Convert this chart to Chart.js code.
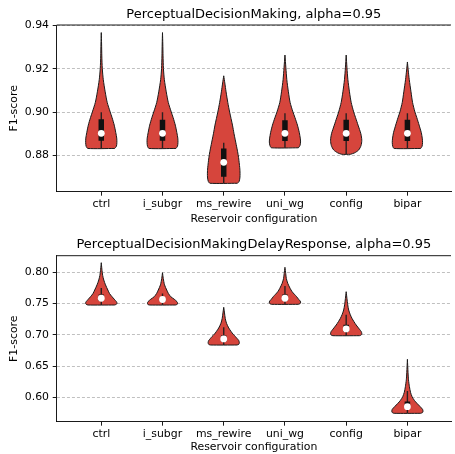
<!DOCTYPE html>
<html>
<head>
<meta charset="utf-8">
<script src="https://cdn.jsdelivr.net/npm/chart.js@4.4.1/dist/chart.umd.min.js"></script>
<style>
  html, body { margin: 0; padding: 0; background: #fff; }
  #wrap { position: relative; width: 455px; height: 454px; overflow: hidden; }
  canvas { position: absolute; left: 0; }
</style>
</head>
<body>
<div id="wrap">
  <canvas id="pdm" width="455" height="228" style="top:0px"></canvas>
  <canvas id="pdmdr" width="455" height="224" style="top:230px"></canvas>
</div>
<script>
const categories = ['ctrl', 'i_subgr', 'ms_rewire', 'uni_wg', 'config', 'bipar'];

// PerceptualDecisionMaking
const pdmTicks = [0.88, 0.90, 0.92, 0.94];
const pdmRange = [0.8632, 0.9403];
const pdmQ1 = [0.8868, 0.8868, 0.8701, 0.8867, 0.8866, 0.8867];
const pdmMedian = [0.8902, 0.8902, 0.8768, 0.8902, 0.8902, 0.8902];
const pdmQ3 = [0.8967, 0.8965, 0.8832, 0.8963, 0.8965, 0.8965];
const pdmWhiskerLow = [0.8832, 0.8832, 0.8671, 0.8835, 0.8805, 0.8832];
const pdmWhiskerHigh = [0.9000, 0.9000, 0.8858, 0.8995, 0.8995, 0.8995];
// F1 values along each violin and the relative density there
const pdmLevels = [
  [0.8832, 0.8842, 0.8860, 0.8880, 0.8905, 0.8940, 0.8975, 0.9001, 0.9045, 0.9094, 0.9150, 0.9202, 0.9260, 0.9315, 0.9368],
  [0.8832, 0.8842, 0.8860, 0.8880, 0.8905, 0.8940, 0.8975, 0.9001, 0.9045, 0.9094, 0.9150, 0.9202, 0.9260, 0.9315, 0.9368],
  [0.8671, 0.8680, 0.8700, 0.8730, 0.8760, 0.8790, 0.8817, 0.8850, 0.8900, 0.8940, 0.9000, 0.9045, 0.9094, 0.9135, 0.9168],
  [0.8835, 0.8845, 0.8862, 0.8880, 0.8905, 0.8940, 0.8975, 0.9001, 0.9045, 0.9094, 0.9150, 0.9205, 0.9264],
  [0.8805, 0.8812, 0.8825, 0.8845, 0.8870, 0.8900, 0.8940, 0.8975, 0.9001, 0.9045, 0.9094, 0.9150, 0.9205, 0.9264],
  [0.8832, 0.8842, 0.8860, 0.8880, 0.8905, 0.8940, 0.8975, 0.9001, 0.9045, 0.9094, 0.9150, 0.9195, 0.9232]
];
const pdmDensity = [
  [0.86, 0.97, 1.00, 0.99, 0.93, 0.83, 0.69, 0.57, 0.38, 0.25, 0.13, 0.065, 0.035, 0.02, 0],
  [0.86, 0.96, 0.99, 0.98, 0.92, 0.82, 0.68, 0.56, 0.37, 0.24, 0.12, 0.06, 0.035, 0.02, 0],
  [0.88, 0.99, 1.04, 1.04, 1.00, 0.95, 0.89, 0.80, 0.66, 0.56, 0.38, 0.26, 0.15, 0.07, 0],
  [0.86, 0.96, 1.00, 0.98, 0.92, 0.80, 0.64, 0.51, 0.33, 0.22, 0.12, 0.06, 0],
  [0.28, 0.55, 0.80, 0.95, 1.00, 0.94, 0.76, 0.60, 0.48, 0.32, 0.21, 0.11, 0.05, 0],
  [0.85, 0.94, 0.97, 0.95, 0.89, 0.75, 0.60, 0.48, 0.33, 0.23, 0.12, 0.05, 0]
];

// PerceptualDecisionMakingDelayResponse
const pdmdrTicks = [0.60, 0.65, 0.70, 0.75, 0.80];
const pdmdrRange = [0.561, 0.8266];
const pdmdrQ1 = [0.7540, 0.7535, 0.6895, 0.7545, 0.7050, 0.5825];
const pdmdrMedian = [0.7585, 0.7565, 0.6935, 0.7585, 0.7095, 0.5850];
const pdmdrQ3 = [0.7645, 0.7600, 0.6990, 0.7645, 0.7160, 0.5935];
const pdmdrWhiskerLow = [0.7477, 0.7477, 0.6837, 0.7488, 0.6986, 0.5744];
const pdmdrWhiskerHigh = [0.7750, 0.7660, 0.7120, 0.7780, 0.7320, 0.6100];
const pdmdrLevels = [
  [0.7477, 0.7487, 0.7500, 0.7515, 0.7530, 0.7570, 0.7610, 0.7660, 0.7717, 0.7800, 0.7877, 0.7950, 0.8050, 0.8154],
  [0.7477, 0.7487, 0.7500, 0.7515, 0.7530, 0.7570, 0.7610, 0.7660, 0.7717, 0.7800, 0.7900, 0.7994],
  [0.6837, 0.6847, 0.6860, 0.6875, 0.6906, 0.6940, 0.6970, 0.7010, 0.7050, 0.7110, 0.7184, 0.7260, 0.7350, 0.7440],
  [0.7488, 0.7498, 0.7510, 0.7525, 0.7540, 0.7570, 0.7610, 0.7650, 0.7690, 0.7744, 0.7824, 0.7900, 0.7980, 0.8080],
  [0.6986, 0.6996, 0.7010, 0.7025, 0.7050, 0.7090, 0.7157, 0.7210, 0.7264, 0.7330, 0.7397, 0.7480, 0.7580, 0.7690],
  [0.5744, 0.5754, 0.5766, 0.5780, 0.5808, 0.5850, 0.5904, 0.5950, 0.6010, 0.6080, 0.6170, 0.6280, 0.6400, 0.6608]
];
const pdmdrDensity = [
  [0.85, 0.96, 1.00, 1.00, 0.97, 0.83, 0.69, 0.53, 0.42, 0.27, 0.16, 0.09, 0.04, 0],
  [0.84, 0.94, 0.96, 0.96, 0.93, 0.75, 0.53, 0.38, 0.27, 0.13, 0.05, 0],
  [0.85, 0.96, 0.99, 1.00, 0.97, 0.86, 0.76, 0.60, 0.48, 0.32, 0.18, 0.10, 0.05, 0],
  [0.85, 0.96, 1.00, 1.00, 0.98, 0.87, 0.75, 0.60, 0.46, 0.33, 0.18, 0.09, 0.05, 0],
  [0.85, 0.96, 1.00, 1.00, 0.97, 0.85, 0.64, 0.50, 0.37, 0.25, 0.16, 0.10, 0.05, 0],
  [0.85, 0.96, 0.99, 1.00, 0.97, 0.82, 0.61, 0.45, 0.30, 0.20, 0.13, 0.07, 0.04, 0]
];

Chart.defaults.font.family = "'DejaVu Sans', sans-serif";
Chart.defaults.color = '#000';

const violinRed = '#d6453c';
const halfWidth = 0.255; // x units per unit of density
const labelSize = 10.9;

// matplotlib-like top spine
const topSpine = {
  id: 'topSpine',
  afterDraw(chart) {
    const { ctx, chartArea: a } = chart;
    ctx.save();
    ctx.strokeStyle = '#000';
    ctx.lineWidth = 0.9;
    ctx.beginPath();
    ctx.moveTo(a.left, a.top);
    ctx.lineTo(a.right, a.top);
    ctx.stroke();
    ctx.restore();
  }
};

function violinPoints(k, levels, density) {
  const right = levels.map((y, j) => ({ x: k + density[j] * halfWidth, y: y }));
  const left = levels.map((y, j) => ({ x: k - density[j] * halfWidth, y: y })).reverse();
  return right.concat(left, [right[0]]);
}

function segmentPoints(lo, hi) {
  const pts = [];
  lo.forEach((v, k) => {
    pts.push({ x: k, y: v }, { x: k, y: hi[k] }, { x: k, y: null });
  });
  return pts;
}

function makePanel(id, title, range, ticks, levels, density, q1, median, q3, wLo, wHi, titlePad, bottomPad, xHeight) {
  const datasets = [];
  datasets.push({
    type: 'scatter',
    data: median.map((v, k) => ({ x: k, y: v })),
    pointRadius: 3.4,
    pointBackgroundColor: '#fff',
    pointBorderWidth: 0,
    order: 0
  });
  datasets.push({
    type: 'line',
    data: segmentPoints(q1, q3),
    borderColor: '#111',
    borderWidth: 5.5,
    borderCapStyle: 'butt',
    pointRadius: 0,
    spanGaps: false,
    fill: false,
    order: 1
  });
  datasets.push({
    type: 'line',
    data: segmentPoints(wLo, wHi),
    borderColor: '#2a2020',
    borderWidth: 1.4,
    borderCapStyle: 'butt',
    pointRadius: 0,
    spanGaps: false,
    fill: false,
    order: 2
  });
  levels.forEach((lv, k) => {
    datasets.push({
      type: 'line',
      data: violinPoints(k, lv, density[k]),
      borderColor: '#1a1a1a',
      borderWidth: 1,
      backgroundColor: violinRed,
      fill: 'shape',
      tension: 0.25,
      pointRadius: 0,
      order: 3
    });
  });

  return new Chart(document.getElementById(id), {
    type: 'line',
    data: { datasets: datasets },
    options: {
      responsive: false,
      animation: false,
      events: [],
      layout: { padding: { left: 0, right: 0, top: 0, bottom: bottomPad } },
      plugins: {
        legend: { display: false },
        tooltip: { enabled: false },
        title: {
          display: true,
          fullSize: false,
          text: title,
          font: { size: 13, weight: 'normal' },
          color: '#000',
          padding: titlePad
        }
      },
      scales: {
        x: {
          type: 'linear',
          min: -0.728,
          max: 5.712,
          afterBuildTicks: s => { s.ticks = categories.map((c, k) => ({ value: k })); },
          afterFit: s => { s.height = xHeight; },
          ticks: {
            callback: v => categories[Math.round(v)],
            autoSkip: false,
            maxRotation: 0,
            padding: 2,
            font: { size: labelSize },
            color: '#000'
          },
          grid: {
            drawOnChartArea: false,
            drawTicks: true,
            tickLength: 4,
            tickColor: '#000',
            tickWidth: 0.9
          },
          border: { display: true, color: '#000', width: 0.9 },
          title: {
            display: true,
            text: 'Reservoir configuration',
            font: { size: labelSize },
            color: '#000',
            padding: { top: 0, bottom: 0 }
          }
        },
        y: {
          min: range[0],
          max: range[1],
          afterBuildTicks: s => { s.ticks = ticks.map(v => ({ value: v })); },
          afterFit: s => { s.width = 56.7; },
          ticks: {
            callback: v => v.toFixed(2),
            padding: 3.7,
            font: { size: labelSize },
            color: '#000'
          },
          grid: {
            color: '#b0b0b0',
            lineWidth: 0.8,
            drawTicks: true,
            tickLength: 4,
            tickColor: '#000',
            tickWidth: 0.9
          },
          border: { display: true, color: '#000', width: 0.9, dash: [3, 2] },
          title: {
            display: true,
            text: 'F1-score',
            font: { size: labelSize },
            color: '#000',
            padding: { top: 7.8, bottom: 0 }
          }
        }
      }
    },
    plugins: [topSpine]
  });
}

makePanel('pdm', 'PerceptualDecisionMaking, alpha=0.95', pdmRange, pdmTicks,
  pdmLevels, pdmDensity, pdmQ1, pdmMedian, pdmQ3, pdmWhiskerLow, pdmWhiskerHigh,
  { top: 7.2, bottom: 2.2 }, 2.7, 33.6);

makePanel('pdmdr', 'PerceptualDecisionMakingDelayResponse, alpha=0.95', pdmdrRange, pdmdrTicks,
  pdmdrLevels, pdmdrDensity, pdmdrQ1, pdmdrMedian, pdmdrQ3, pdmdrWhiskerLow, pdmdrWhiskerHigh,
  { top: 6.5, bottom: 3.6 }, 0, 32.3);
</script>
</body>
</html>
